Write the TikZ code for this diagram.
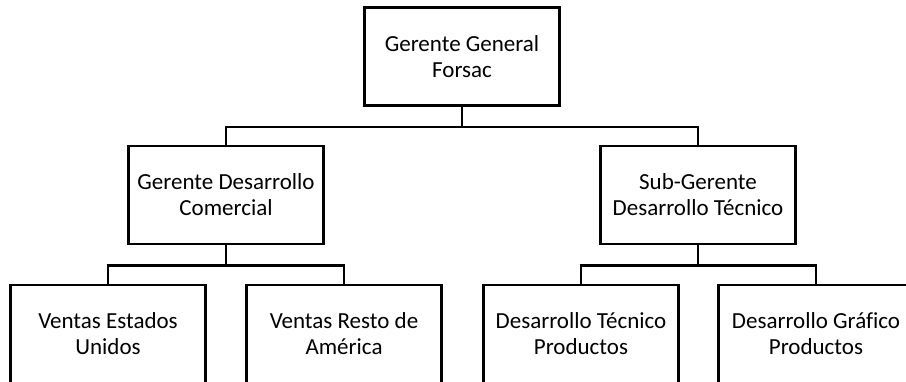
\documentclass[tikz,border=0pt]{standalone}
\usepackage{fontspec}
\setmainfont[Ligatures=CommonOff]{Carlito}
\usepackage{tikz}

\begin{document}
\begin{tikzpicture}[x=1pt,y=-1pt,puesto/.style={rectangle,draw=black,line width=2.6pt,
        inner sep=0pt,minimum width=195pt,minimum height=98pt,align=center,
        font=\fontsize{23}{26}\selectfont},
        linea/.style={line width=2.6pt}]
      \useasboundingbox (0,0) rectangle (906,381);
      \clip (0,0) rectangle (906,381);
      \node[puesto] (gerente) at (462,56.5) {Gerente General\\Forsac};
      \node[puesto] (comercial) at (226,195) {Gerente Desarrollo\\Comercial};
      \node[puesto] (tecnico) at (698,195) {Sub-Gerente\\Desarrollo Técnico};
      \node[puesto] (ventas1) at (108,334) {Ventas Estados\\Unidos};
      \node[puesto] (ventas2) at (344,334) {Ventas Resto de\\América};
      \node[puesto] (desarrollo1) at (581,334) {Desarrollo Técnico\\Productos};
      \node[puesto] (desarrollo2) at (816,334) {Desarrollo Gráfico\\Productos};
      \draw[linea] (gerente.south) -- ++(0,20) -| (comercial.north);
      \draw[linea] (gerente.south) -- ++(0,20) -| (tecnico.north);
      \draw[linea] (comercial.south) -- ++(0,20) -| (ventas1.north);
      \draw[linea] (comercial.south) -- ++(0,20) -| (ventas2.north);
      \draw[linea] (tecnico.south) -- ++(0,20) -| (desarrollo1.north);
      \draw[linea] (tecnico.south) -- ++(0,20) -| (desarrollo2.north);
    \end{tikzpicture}
\end{document}
